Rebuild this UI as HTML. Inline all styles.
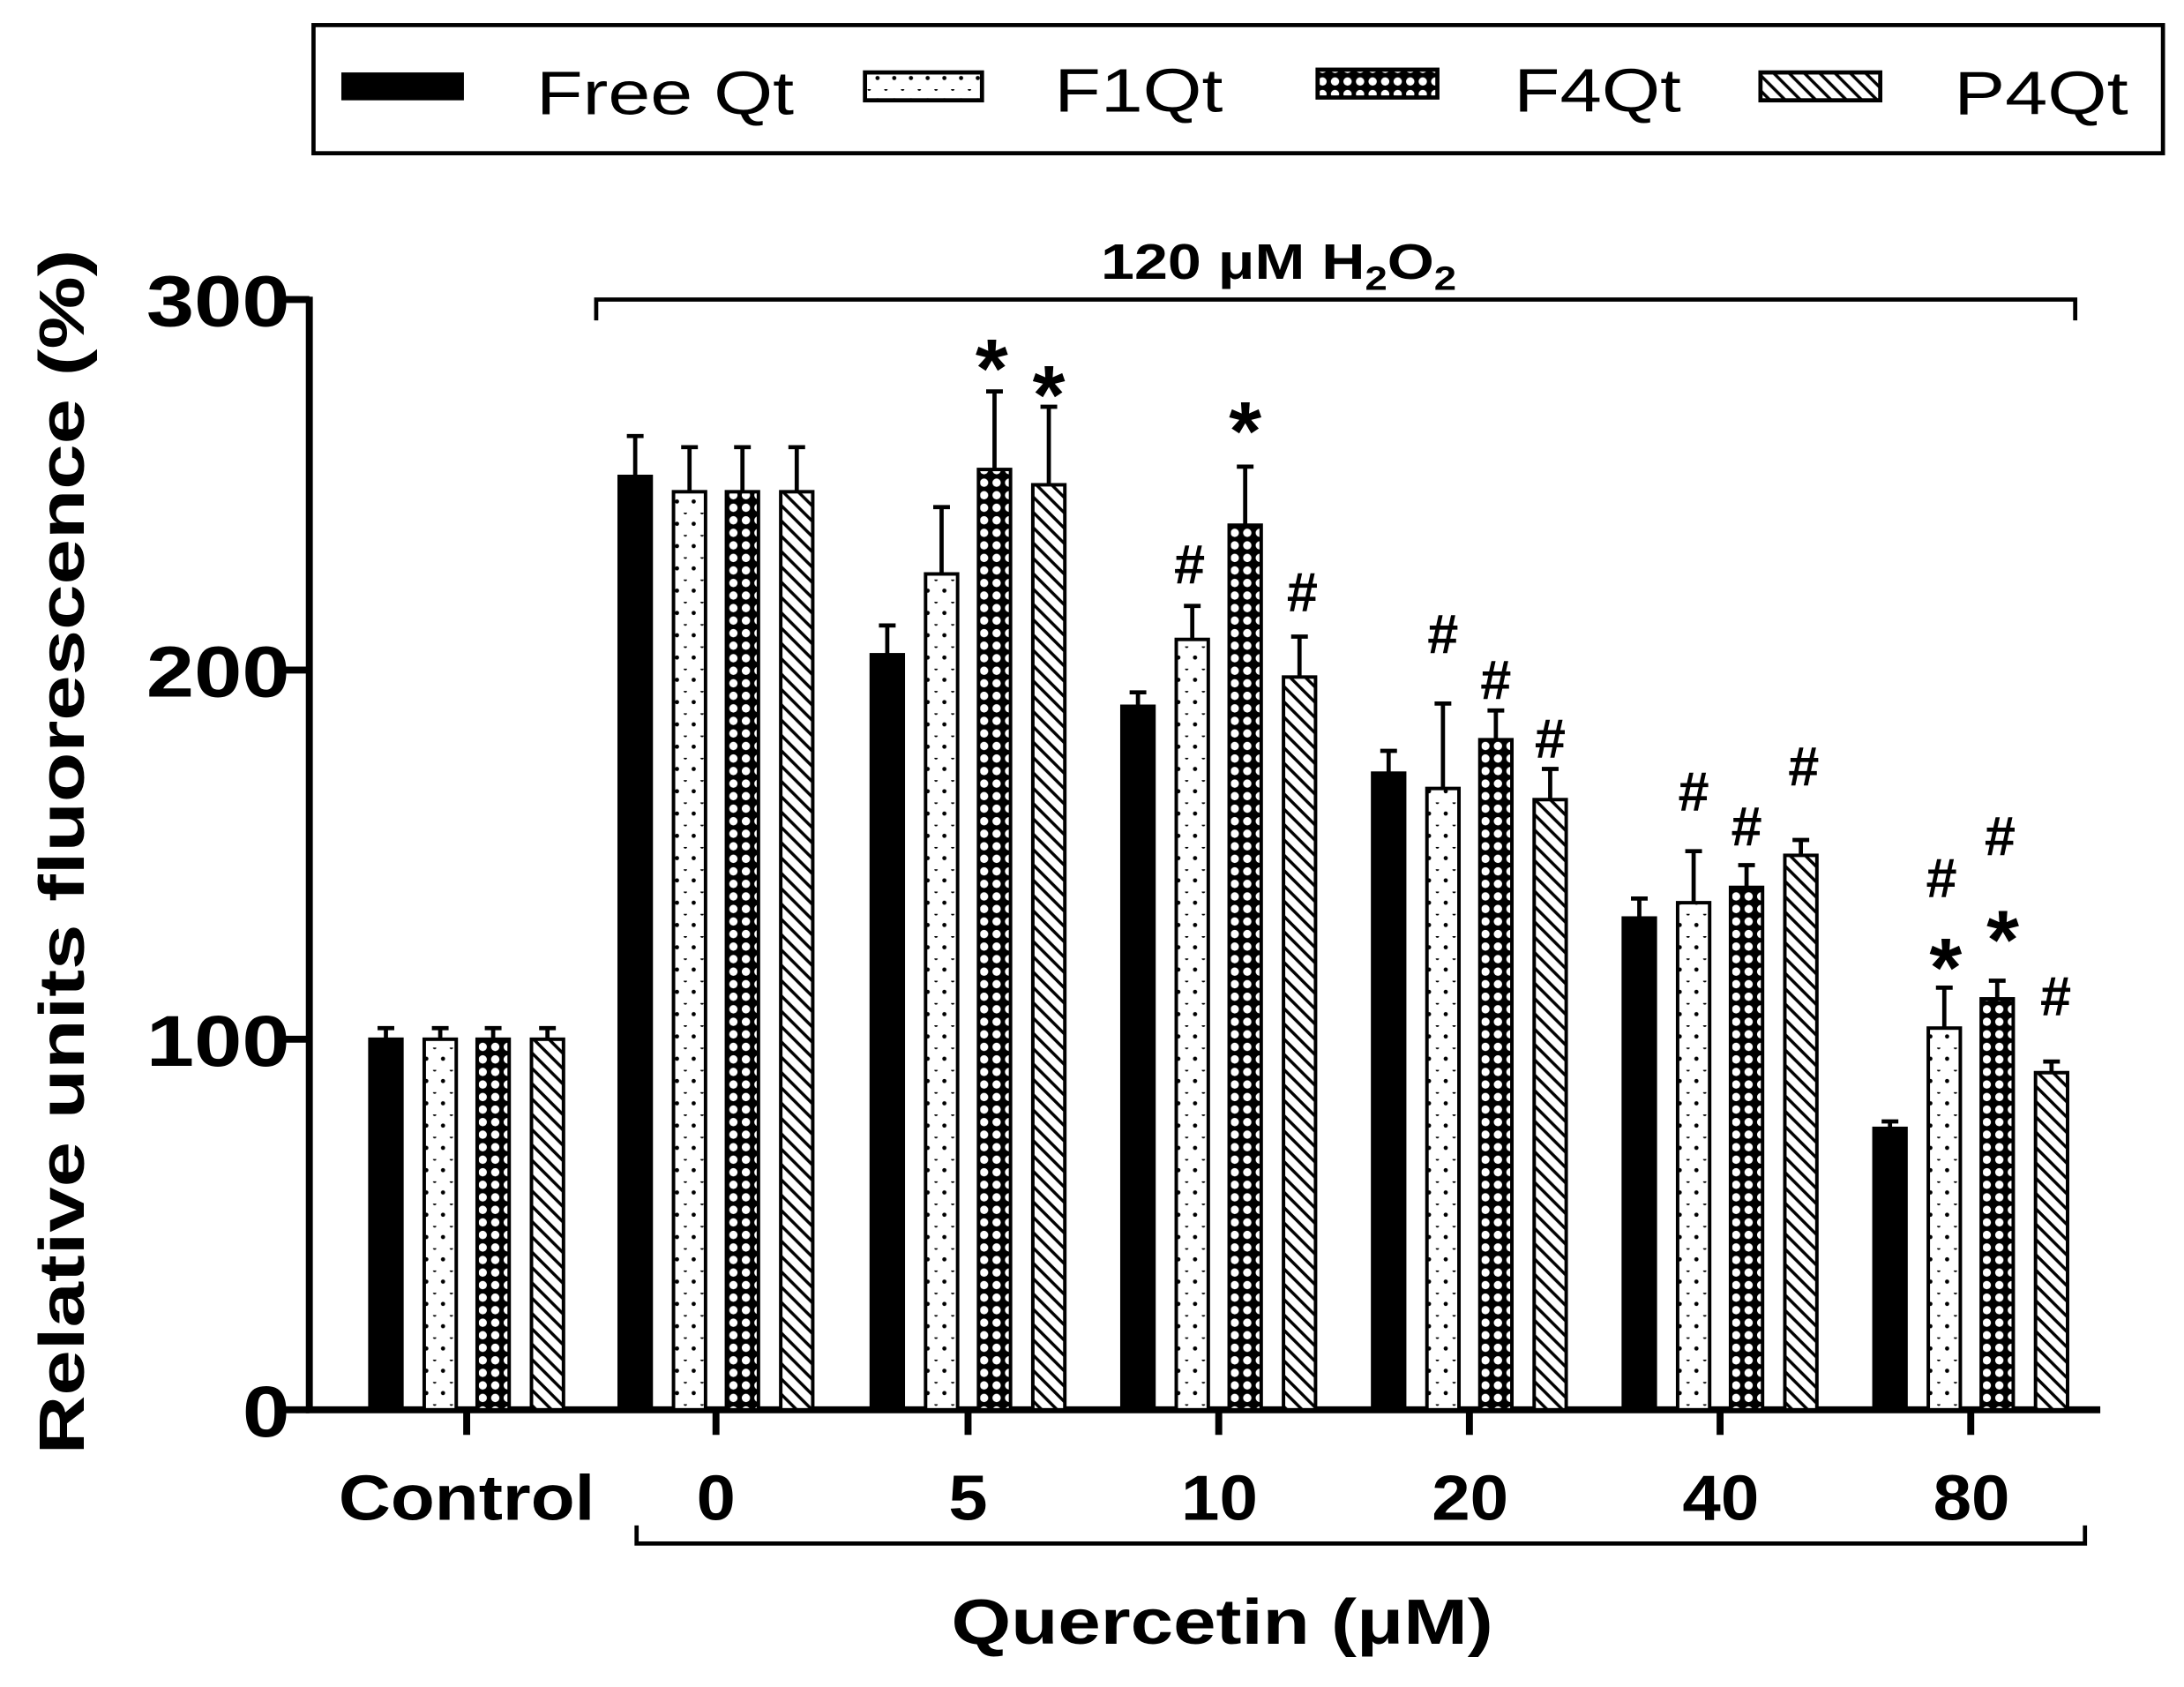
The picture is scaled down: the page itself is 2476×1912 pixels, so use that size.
<!DOCTYPE html>
<html><head><meta charset="utf-8"><style>html,body{margin:0;padding:0;background:#fff}svg{display:block}</style></head>
<body>
<svg width="2476" height="1912" viewBox="0 0 1568 1211" xmlns="http://www.w3.org/2000/svg" font-family="'Liberation Sans', sans-serif">
<defs>
<pattern id="dot" width="12" height="16" patternUnits="userSpaceOnUse">
<rect width="12" height="16" fill="#fff"/><circle cx="6" cy="8" r="1.5" fill="#000"/><circle cx="0" cy="0" r="1.2" fill="#000"/><circle cx="12" cy="0" r="1.2" fill="#000"/></pattern>
<pattern id="chk" width="9" height="9" patternUnits="userSpaceOnUse">
<rect width="9" height="9" fill="#000"/><circle cx="4.5" cy="4.5" r="3" fill="#fff"/></pattern>
<pattern id="hat" width="11" height="11" patternUnits="userSpaceOnUse">
<rect width="11" height="11" fill="#fff"/><path d="M0,0 L11,11 M-2,9 L2,13 M9,-2 L13,2" stroke="#000" stroke-width="2.2"/></pattern>
</defs>
<rect width="1568" height="1211" fill="#fff"/>
<!-- legend -->
<rect x="225" y="18" width="1328" height="92" fill="#fff" stroke="#000" stroke-width="3"/>
<rect x="245" y="52" width="88" height="20" fill="#000"/>
<text x="385" y="82" font-size="44" textLength="185" lengthAdjust="spacingAndGlyphs">Free Qt</text>
<rect x="621" y="52" width="84" height="20" fill="url(#dot)" stroke="#000" stroke-width="3"/>
<text x="757" y="80" font-size="44" textLength="121" lengthAdjust="spacingAndGlyphs">F1Qt</text>
<rect x="946" y="50" width="86" height="20" fill="url(#chk)" stroke="#000" stroke-width="3"/>
<text x="1087" y="80" font-size="44" textLength="120" lengthAdjust="spacingAndGlyphs">F4Qt</text>
<rect x="1264" y="52" width="86" height="20" fill="url(#hat)" stroke="#000" stroke-width="3"/>
<text x="1403" y="82" font-size="44" textLength="125" lengthAdjust="spacingAndGlyphs">P4Qt</text>

<!-- top bracket -->
<path d="M428,230 V215 H1490 V230" fill="none" stroke="#000" stroke-width="3"/>
<g transform="translate(918,200) scale(1.2,1)">
<text x="0" y="0" font-size="36" font-weight="bold" text-anchor="middle">120 μM H<tspan font-size="24" dy="8">2</tspan><tspan dy="-8">O</tspan><tspan font-size="24" dy="8">2</tspan></text>
</g>

<!-- axes -->
<g stroke="#000" stroke-width="5" fill="none">
<path d="M222,213 V1012 H1508"/>
<path d="M205,215 H222 M205,481 H222 M205,746 H222 M205,1012 H222"/>
<path d="M335,1012 V1030 M514,1012 V1030 M695,1012 V1030 M875,1012 V1030 M1055,1012 V1030 M1235,1012 V1030 M1415,1012 V1030"/>
</g>
<g font-size="52" font-weight="bold">
<text x="105" y="234" textLength="103" lengthAdjust="spacingAndGlyphs">300</text>
<text x="105" y="500" textLength="103" lengthAdjust="spacingAndGlyphs">200</text>
<text x="105" y="765" textLength="103" lengthAdjust="spacingAndGlyphs">100</text>
<text x="174" y="1031" textLength="34" lengthAdjust="spacingAndGlyphs">0</text>
</g>
<text transform="translate(60,612) rotate(-90)" x="-432" y="0" font-size="46" font-weight="bold" textLength="865" lengthAdjust="spacingAndGlyphs">Relative units fluorescence (%)</text>
<g font-size="46" font-weight="bold">
<text x="243" y="1091" textLength="184" lengthAdjust="spacingAndGlyphs">Control</text>
<text x="500" y="1091" textLength="28" lengthAdjust="spacingAndGlyphs">0</text>
<text x="681" y="1091" textLength="28" lengthAdjust="spacingAndGlyphs">5</text>
<text x="848" y="1091" textLength="55" lengthAdjust="spacingAndGlyphs">10</text>
<text x="1028" y="1091" textLength="55" lengthAdjust="spacingAndGlyphs">20</text>
<text x="1208" y="1091" textLength="55" lengthAdjust="spacingAndGlyphs">40</text>
<text x="1388" y="1091" textLength="55" lengthAdjust="spacingAndGlyphs">80</text>
</g>
<path d="M457,1095 V1108 H1497 V1095" fill="none" stroke="#000" stroke-width="3"/>
<text x="683" y="1180" font-size="46" font-weight="bold" textLength="389" lengthAdjust="spacingAndGlyphs">Quercetin (μM)</text>

<!-- error bars -->
<g stroke="#000" stroke-width="3">
<path d="M277,746 V738 M271,738 H283 M316,746 V738 M310,738 H322 M354,746 V738 M348,738 H360 M393,746 V738 M387,738 H399"/>
<path d="M456,342 V313 M450,313 H462 M495,353 V321 M489,321 H501 M533,353 V321 M527,321 H539 M572,353 V321 M566,321 H578"/>
<path d="M637,470 V449 M631,449 H643 M676,412 V364 M670,364 H682 M714,337 V281 M708,281 H720 M753,348 V292 M747,292 H759"/>
<path d="M817,507 V497 M811,497 H823 M856,459 V435 M850,435 H862 M894,377 V335 M888,335 H900 M933,486 V457 M927,457 H939"/>
<path d="M997,555 V539 M991,539 H1003 M1036,566 V505 M1030,505 H1042 M1074,531 V510 M1068,510 H1080 M1113,574 V552 M1107,552 H1119"/>
<path d="M1177,659 V645 M1171,645 H1183 M1216,648 V611 M1210,611 H1222 M1254,637 V621 M1248,621 H1260 M1293,614 V603 M1287,603 H1299"/>
<path d="M1357,810 V805 M1351,805 H1363 M1396,738 V709 M1390,709 H1402 M1434,717 V704 M1428,704 H1440 M1473,770 V762 M1467,762 H1479"/>
</g>
<!-- bars -->
<g stroke="#000" stroke-width="2.5">
<rect x="265.5" y="746" width="23" height="266" fill="#000"/>
<rect x="304.5" y="746" width="23" height="266" fill="url(#dot)"/>
<rect x="342.5" y="746" width="23" height="266" fill="url(#chk)"/>
<rect x="381.5" y="746" width="23" height="266" fill="url(#hat)"/>

<rect x="444.5" y="342" width="23" height="670" fill="#000"/>
<rect x="483.5" y="353" width="23" height="659" fill="url(#dot)"/>
<rect x="521.5" y="353" width="23" height="659" fill="url(#chk)"/>
<rect x="560.5" y="353" width="23" height="659" fill="url(#hat)"/>

<rect x="625.5" y="470" width="23" height="542" fill="#000"/>
<rect x="664.5" y="412" width="23" height="600" fill="url(#dot)"/>
<rect x="702.5" y="337" width="23" height="675" fill="url(#chk)"/>
<rect x="741.5" y="348" width="23" height="664" fill="url(#hat)"/>

<rect x="805.5" y="507" width="23" height="505" fill="#000"/>
<rect x="844.5" y="459" width="23" height="553" fill="url(#dot)"/>
<rect x="882.5" y="377" width="23" height="635" fill="url(#chk)"/>
<rect x="921.5" y="486" width="23" height="526" fill="url(#hat)"/>

<rect x="985.5" y="555" width="23" height="457" fill="#000"/>
<rect x="1024.5" y="566" width="23" height="446" fill="url(#dot)"/>
<rect x="1062.5" y="531" width="23" height="481" fill="url(#chk)"/>
<rect x="1101.5" y="574" width="23" height="438" fill="url(#hat)"/>

<rect x="1165.5" y="659" width="23" height="353" fill="#000"/>
<rect x="1204.5" y="648" width="23" height="364" fill="url(#dot)"/>
<rect x="1242.5" y="637" width="23" height="375" fill="url(#chk)"/>
<rect x="1281.5" y="614" width="23" height="398" fill="url(#hat)"/>

<rect x="1345.5" y="810" width="23" height="202" fill="#000"/>
<rect x="1384.5" y="738" width="23" height="274" fill="url(#dot)"/>
<rect x="1422.5" y="717" width="23" height="295" fill="url(#chk)"/>
<rect x="1461.5" y="770" width="23" height="242" fill="url(#hat)"/>
</g>
<!-- annotations -->
<g font-size="60" font-weight="bold" text-anchor="middle">
<text x="712" y="285">*</text><text x="753" y="304">*</text><text x="894" y="330">*</text>
<text x="1397" y="715">*</text><text x="1438" y="695">*</text>
</g>
<g font-size="40" font-weight="bold" text-anchor="middle">
<text x="854" y="419">#</text><text x="935" y="439">#</text>
<text x="1036" y="469">#</text><text x="1074" y="502">#</text><text x="1113" y="544">#</text>
<text x="1216" y="582">#</text><text x="1254" y="607">#</text><text x="1295" y="564">#</text>
<text x="1394" y="644">#</text><text x="1436" y="614">#</text><text x="1476" y="729">#</text>
</g>
</svg>
</body></html>
